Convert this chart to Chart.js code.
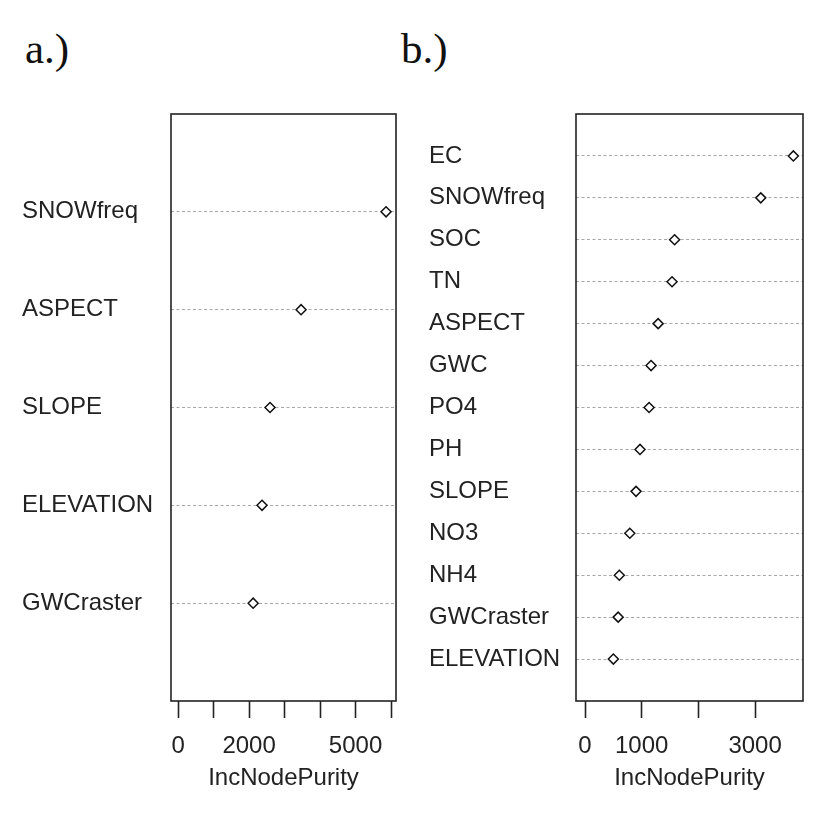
<!DOCTYPE html>
<html>
<head>
<meta charset="utf-8">
<script src="https://cdn.jsdelivr.net/npm/chart.js@4/dist/chart.umd.min.js"></script>
<style>
  html, body { margin: 0; padding: 0; background: #fff; }
  #wrap { position: relative; width: 827px; height: 825px; overflow: hidden; }
  canvas { position: absolute; top: 0; }
  .panel-title {
    position: absolute; top: 27px; font-family: "Liberation Serif", "Times New Roman", serif;
    font-size: 43px; line-height: 1; color: #111;
  }
</style>
</head>
<body>
<div id="wrap">
  <div class="panel-title" style="left:25px">a.)</div>
  <div class="panel-title" style="left:401px">b.)</div>
  <canvas id="chartA" width="413" height="825" style="left:0"></canvas>
  <canvas id="chartB" width="414" height="825" style="left:413px"></canvas>
</div>
<script>
// panel a: listed top to bottom
const varsA = ["SNOWfreq", "ASPECT", "SLOPE", "ELEVATION", "GWCraster"];
const purityA = [5860, 3465, 2590, 2365, 2115];
const ticksA = [0, 1000, 2000, 3000, 4000, 5000, 6000];
const tickLabelsA = [0, 2000, 5000];

// panel b: listed top to bottom
const varsB = ["EC", "SNOWfreq", "SOC", "TN", "ASPECT", "GWC", "PO4", "PH", "SLOPE", "NO3", "NH4", "GWCraster", "ELEVATION"];
const purityB = [3675, 3100, 1580, 1535, 1290, 1165, 1130, 970, 900, 790, 605, 585, 500];
const ticksB = [0, 1000, 2000, 3000];
const tickLabelsB = [0, 1000, 3000];

const FONT = "'Liberation Sans', Arial, sans-serif";
const INK = "#222";

const boxPlugin = {
  id: "box",
  beforeDatasetsDraw(chart) {
    const a = chart.chartArea;
    const ctx = chart.ctx;
    ctx.save();
    ctx.strokeStyle = INK;
    ctx.lineWidth = 1.6;
    ctx.strokeRect(a.left, a.top, a.right - a.left, a.bottom - a.top);
    ctx.restore();
  }
};

function dotChart(id, vars, values, xTicks, xLabels, xMin, xMax, pad, yWidth) {
  const n = vars.length;
  const points = values.map((v, i) => ({ x: v, y: n - i }));
  return new Chart(document.getElementById(id), {
    type: "scatter",
    data: {
      datasets: [{
        data: points,
        pointStyle: "rectRot",
        pointRadius: 5,
        pointHoverRadius: 5,
        borderColor: "#111",
        backgroundColor: "#fff",
        borderWidth: 1.5
      }]
    },
    options: {
      responsive: false,
      animation: false,
      layout: { padding: pad },
      plugins: { legend: { display: false }, tooltip: { enabled: false } },
      scales: {
        x: {
          type: "linear",
          min: xMin,
          max: xMax,
          afterBuildTicks: s => { s.ticks = xTicks.map(v => ({ value: v })); },
          afterFit: s => { s.height = 96; },
          border: { display: false },
          grid: {
            drawOnChartArea: false,
            drawTicks: true,
            tickLength: 17,
            tickColor: INK,
            tickWidth: 1.6
          },
          ticks: {
            padding: 14,
            maxRotation: 0,
            autoSkip: false,
            color: INK,
            font: { family: FONT, size: 24 },
            callback: v => xLabels.includes(v) ? String(v) : ""
          },
          title: {
            display: true,
            text: "IncNodePurity",
            color: INK,
            font: { family: FONT, size: 24 },
            padding: { top: 4, bottom: 4 }
          }
        },
        y: {
          type: "linear",
          min: 0,
          max: n + 1,
          afterBuildTicks: s => {
            const t = [];
            for (let k = 0; k <= n + 1; k++) t.push({ value: k });
            s.ticks = t;
          },
          afterFit: s => { s.width = yWidth; },
          border: { display: false, dash: [3, 2.5] },
          grid: {
            drawTicks: false,
            lineWidth: 1,
            color: c => (c.tick && c.tick.value >= 1 && c.tick.value <= n) ? "#a8a8a8" : "rgba(0,0,0,0)"
          },
          ticks: {
            crossAlign: "far",
            autoSkip: false,
            color: INK,
            font: { family: FONT, size: 24 },
            callback: v => (v >= 1 && v <= n) ? vars[n - v] : ""
          }
        }
      }
    },
    plugins: [boxPlugin]
  });
}

dotChart("chartA", varsA, purityA, ticksA, tickLabelsA, -200, 6140,
  { left: 22, right: 17, top: 114, bottom: 28 }, 149);
dotChart("chartB", varsB, purityB, ticksB, tickLabelsB, -159, 3845,
  { left: 16, right: 24, top: 114, bottom: 28 }, 147);
</script>
</body>
</html>
